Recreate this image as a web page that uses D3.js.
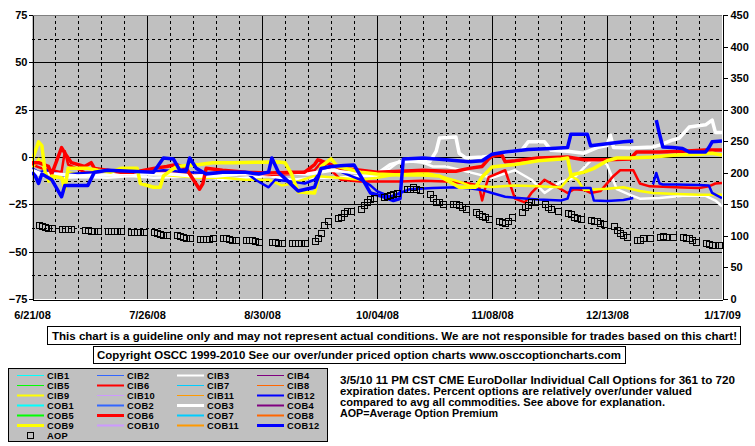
<!DOCTYPE html>
<html>
<head>
<meta charset="utf-8">
<script src="https://cdn.jsdelivr.net/npm/d3@7"></script>
<style>
  body { margin: 0; background: #fff; }
  svg { display: block; font-family: Arial, "Liberation Sans", sans-serif; font-weight: bold; }
</style>
</head>
<body>
<svg id="chart" width="755" height="446"></svg>
<script>
// ---- data ----
const xTickLabels = ["6/21/08", "7/26/08", "8/30/08", "10/04/08", "11/08/08", "12/13/08", "1/17/09"]
const leftTicks = [-75, -50, -25, 0, 25, 50, 75]
const rightTicks = [0, 50, 100, 150, 200, 250, 300, 350, 400, 450]

const legendNames = ["CIB1","CIB2","CIB3","CIB4","CIB5","CIB6","CIB7","CIB8","CIB9","CIB10","CIB11","CIB12",
                     "COB1","COB2","COB3","COB4","COB5","COB6","COB7","COB8","COB9","COB10","COB11","COB12"]
const seriesColors = ["#00ffff","#3366ff","#ffffff","#800080","#00ff00","#ff0000",
                      "#00ccff","#ff6600","#ffff00","#cc99ff","#ff9900","#0000ff"]

const cob6 = [["6/21/08",-3],["6/23/08",-3],["6/26/08",-5],["6/27/08",-9],["6/30/08",5],["7/1/08",2],["7/3/08",-3],["7/7/08",-5],["7/9/08",-3],["7/10/08",-6],["7/14/08",-7],["7/18/08",-8],["7/22/08",-8],["7/28/08",-6],["8/1/08",-5],["8/4/08",-4],["8/7/08",-6],["8/8/08",-9],["8/11/08",-17],["8/12/08",-14],["8/13/08",-6],["8/18/08",-7],["8/25/08",-8],["9/1/08",-8.5],["9/8/08",-8],["9/12/08",-8],["9/15/08",-4],["9/16/08",-1.5],["9/17/08",-2],["9/20/08",-4],["9/23/08",-6],["9/29/08",-7],["10/4/08",-8],["10/11/08",-7.5],["10/18/08",-7],["10/25/08",-7.5],["10/28/08",-7.5],["11/1/08",-6],["11/5/08",-5],["11/7/08",-1],["11/8/08",0.5],["11/11/08",1],["11/12/08",-2.5],["11/15/08",-2],["11/22/08",-0.5],["12/1/08",0],["12/6/08",-1.5],["12/13/08",-1.5],["12/20/08",-1],["12/22/08",2.6],["12/29/08",2.6],["1/5/09",3],["1/12/09",3.7],["1/17/09",3.7]]

const cib6 = [["6/21/08",-4],["6/24/08",-6],["6/27/08",-7],["6/30/08",-8],["7/1/08",3],["7/2/08",-4],["7/7/08",-8],["7/14/08",-9],["7/21/08",-9],["7/28/08",-8],["8/4/08",-8],["8/11/08",-10],["8/18/08",-9.5],["8/25/08",-9],["9/1/08",-9.5],["9/8/08",-9],["9/15/08",-7],["9/17/08",-3],["9/20/08",-7],["9/23/08",-12],["9/29/08",-13],["10/4/08",-13],["10/11/08",-13],["10/18/08",-12.5],["10/25/08",-13],["11/1/08",-14],["11/4/08",-15],["11/5/08",-23],["11/6/08",-16],["11/7/08",-10.6],["11/12/08",-7],["11/13/08",-12],["11/15/08",-22],["11/18/08",-24],["11/20/08",-19],["11/24/08",-12],["11/27/08",-15],["12/1/08",-19],["12/3/08",-17],["12/6/08",-17.4],["12/8/08",-19],["12/11/08",-18],["12/15/08",-10],["12/17/08",-7],["12/21/08",-7],["12/23/08",-14],["12/26/08",-15.5],["1/3/09",-16],["1/10/09",-16.4],["1/13/09",-15.5],["1/15/09",-14],["1/17/09",-13.7]]

const cob9 = [["6/21/08",-2],["6/23/08",8],["6/24/08",6],["6/25/08",-8],["6/26/08",-12],["6/27/08",-10],["6/30/08",-11],["7/1/08",-17],["7/2/08",-6],["7/8/08",-6],["7/11/08",-7],["7/15/08",-8],["7/18/08",-6],["7/23/08",-6],["7/24/08",-14],["7/28/08",-16],["7/30/08",-16],["7/31/08",-10],["8/4/08",-5],["8/11/08",-4],["8/15/08",-3],["8/21/08",-3],["8/28/08",-2.8],["9/4/08",-2.6],["9/6/08",-3],["9/8/08",-9],["9/10/08",-18.5],["9/15/08",-19],["9/17/08",-5],["9/20/08",-1],["9/22/08",-5],["9/29/08",-8],["10/4/08",-9],["10/11/08",-9.5],["10/18/08",-9.5],["10/23/08",-10],["10/25/08",-12],["10/29/08",-16],["11/3/08",-16],["11/5/08",-10.6],["11/8/08",-5.3],["11/15/08",-4],["11/22/08",-2],["11/29/08",-1],["12/1/08",-0.5],["12/2/08",-9.5],["12/6/08",-8],["12/9/08",-6],["12/13/08",-2],["12/16/08",-0.5],["12/20/08",-0.5],["12/27/08",0],["1/3/09",1],["1/10/09",1.5],["1/14/09",2],["1/17/09",1]]

const cib9 = [["6/21/08",-6],["6/23/08",-1],["6/24/08",-3],["6/26/08",-13],["6/30/08",-9],["7/1/08",-14],["7/2/08",-8],["7/8/08",-10],["7/15/08",-9],["7/22/08",-8],["7/28/08",-9],["8/4/08",-10],["8/11/08",-11],["8/18/08",-11],["8/25/08",-12],["9/1/08",-12],["9/5/08",-15],["9/8/08",-14],["9/15/08",-10],["9/22/08",-11],["9/29/08",-12],["10/4/08",-11],["10/11/08",-9],["10/18/08",-8],["10/23/08",-10],["10/29/08",-13],["11/1/08",-15],["11/8/08",-15.8],["11/15/08",-15],["11/22/08",-15.5],["11/29/08",-16],["12/2/08",-10],["12/4/08",-12],["12/6/08",-17.4],["12/13/08",-16.8],["12/18/08",-16],["12/23/08",-18],["12/27/08",-19],["1/3/09",-19.5],["1/10/09",-20],["1/17/09",-20]]

const cob12 = [["6/21/08",-8],["6/22/08",-10],["6/23/08",-14],["6/24/08",-9],["6/27/08",-12],["6/30/08",-21],["7/1/08",-15],["7/3/08",-15],["7/8/08",-15],["7/10/08",-8],["7/14/08",-7],["7/21/08",-7.5],["7/28/08",-8],["7/31/08",-0.5],["8/3/08",-1],["8/5/08",-7],["8/7/08",-7],["8/8/08",-0.5],["8/10/08",-6],["8/13/08",-9],["8/18/08",-8],["8/25/08",-8],["8/29/08",-9],["9/1/08",-8],["9/2/08",-0.5],["9/4/08",-8],["9/7/08",-13],["9/10/08",-18],["9/15/08",-16],["9/17/08",-6],["9/20/08",-5],["9/24/08",-4.5],["9/27/08",-4.2],["9/29/08",-10],["10/2/08",-19],["10/6/08",-21],["10/9/08",-23],["10/11/08",-22],["10/12/08",-1],["10/18/08",-0.5],["10/25/08",-1.5],["11/1/08",-2.5],["11/5/08",-2],["11/8/08",1.5],["11/12/08",2.6],["11/19/08",4],["11/26/08",4.5],["12/1/08",5],["12/2/08",12],["12/7/08",12],["12/8/08",6],["12/13/08",7],["12/18/08",8],["12/21/08",8.5],["12/24/08",null],["12/28/08",19.5],["12/29/08",12],["12/30/08",5.3],["1/2/09",5],["1/5/09",4.5],["1/7/09",2.6],["1/12/09",2.6],["1/13/09",5],["1/14/09",8],["1/17/09",8.5]]

const cib12 = [["6/21/08",-6],["6/23/08",-8],["6/26/08",-7],["6/30/08",-10],["7/3/08",-9],["7/10/08",-8],["7/17/08",-8],["7/24/08",-8.5],["7/31/08",-7],["8/7/08",-8],["8/14/08",-8.5],["8/21/08",-8],["8/25/08",-8],["8/28/08",-12],["9/1/08",-16],["9/3/08",-12],["9/8/08",-13],["9/12/08",-14],["9/15/08",-12],["9/17/08",-7],["9/22/08",-7],["9/26/08",-10],["9/29/08",-12],["10/2/08",-15],["10/4/08",-18],["10/8/08",-21],["10/11/08",-19],["10/14/08",-17],["10/21/08",-16.4],["10/28/08",-16],["11/1/08",-16.5],["11/5/08",-17.5],["11/8/08",-19],["11/12/08",-21],["11/15/08",-21.5],["11/22/08",-22.5],["11/29/08",-23],["12/1/08",-22],["12/2/08",-16.4],["12/8/08",-16.4],["12/9/08",-23],["12/13/08",-23.3],["12/18/08",-22.7],["12/21/08",-21.7],["12/24/08",null],["12/27/08",-14.5],["12/28/08",-8.4],["12/29/08",-14],["12/30/08",-14.5],["1/3/09",-14.5],["1/10/09",-14.8],["1/13/09",-15],["1/14/09",-19],["1/17/09",-21.7]]

const cob3 = [["6/21/08",-7],["6/24/08",-9],["6/28/08",-9],["7/5/08",-10],["7/12/08",-9.5],["7/19/08",-9],["7/26/08",-9],["8/2/08",-9],["8/9/08",-10],["8/16/08",-10],["8/23/08",-9],["8/30/08",-9],["9/6/08",-8],["9/13/08",-9],["9/20/08",-7],["9/27/08",-8],["10/4/08",-9],["10/8/08",-4],["10/11/08",-2.6],["10/16/08",-2],["10/20/08",-2.5],["10/22/08",3],["10/23/08",10],["10/28/08",10.6],["10/29/08",2],["10/31/08",-0.5],["11/5/08",0],["11/8/08",0.5],["11/12/08",2.5],["11/17/08",3.5],["11/19/08",8],["11/24/08",8],["11/26/08",3.5],["12/1/08",3],["12/6/08",2],["12/10/08",5],["12/13/08",6],["12/14/08",11.6],["12/15/08",5],["12/20/08",4.8],["12/27/08",5.3],["12/29/08",6.3],["1/2/09",9],["1/4/09",10],["1/7/09",15.8],["1/12/09",17],["1/14/09",19.5],["1/15/09",13],["1/17/09",13]]

const cib3 = [["6/21/08",-8],["6/24/08",-10],["6/30/08",-11],["7/7/08",-10.5],["7/14/08",-11],["7/21/08",-10],["7/28/08",-11],["8/4/08",-10.5],["8/11/08",-9.5],["8/18/08",-12],["8/25/08",-11],["9/1/08",-10],["9/8/08",-12],["9/15/08",-11],["9/22/08",-11],["9/29/08",-10],["10/4/08",-10],["10/8/08",-6],["10/11/08",-2],["10/16/08",-2.6],["10/18/08",-3],["10/21/08",-5],["10/25/08",-5],["11/1/08",-8],["11/8/08",-11],["11/15/08",-7],["11/20/08",-12],["11/24/08",-19],["11/29/08",-13],["12/3/08",-11],["12/8/08",-2],["12/11/08",-1.5],["12/13/08",-4],["12/16/08",-17],["12/20/08",-20],["12/23/08",-22],["12/29/08",-21.7],["1/5/09",-20.5],["1/12/09",-20.5],["1/15/09",-23],["1/17/09",-26]]

// average option premium (right axis)
const aop = [["6/23/08",118],["6/24/08",116],["6/25/08",114],["6/26/08",112],["6/27/08",112],
["6/30/08",111],["7/1/08",111],["7/2/08",111],["7/3/08",111],
["7/7/08",110],["7/8/08",109],["7/9/08",108],["7/10/08",107],["7/11/08",107],
["7/14/08",108],["7/15/08",108],["7/16/08",108],["7/17/08",108],["7/18/08",108],
["7/21/08",106],["7/22/08",106],["7/23/08",106],["7/24/08",106],["7/25/08",106],
["7/28/08",106],["7/29/08",105],["7/30/08",103],["7/31/08",102],["8/1/08",102],
["8/4/08",101],["8/5/08",100],["8/6/08",98],["8/7/08",96],["8/8/08",96],
["8/11/08",95],["8/12/08",95],["8/13/08",95],["8/14/08",95],["8/15/08",96],
["8/18/08",96],["8/19/08",96],["8/20/08",95],["8/21/08",94],["8/22/08",94],
["8/25/08",93],["8/26/08",93],["8/27/08",93],["8/28/08",92],["8/29/08",91],
["9/2/08",91],["9/3/08",90],["9/4/08",89],["9/5/08",88],
["9/8/08",88],["9/9/08",88],["9/10/08",88],["9/11/08",88],["9/12/08",88],
["9/15/08",92],["9/16/08",97],["9/17/08",105],["9/18/08",117],["9/19/08",123],
["9/22/08",128],["9/23/08",130],["9/24/08",137],["9/25/08",139],["9/26/08",139],
["9/29/08",143],["9/30/08",149],["10/1/08",154],["10/2/08",158],["10/3/08",160],
["10/6/08",161],["10/7/08",163],["10/8/08",165],["10/9/08",166],["10/10/08",168],
["10/13/08",174],["10/14/08",175],["10/15/08",177],["10/16/08",175],["10/17/08",172],
["10/20/08",166],["10/21/08",160],["10/22/08",154],["10/23/08",153],["10/24/08",151],
["10/27/08",151],["10/28/08",150],["10/29/08",149],["10/30/08",146],["10/31/08",142],
["11/3/08",138],["11/4/08",135],["11/5/08",132],["11/6/08",130],["11/7/08",127],
["11/10/08",124],["11/11/08",122],["11/12/08",121],["11/13/08",124],["11/14/08",130],
["11/17/08",138],["11/18/08",145],["11/19/08",149],["11/20/08",153],["11/21/08",154],
["11/24/08",151],["11/25/08",146],["11/26/08",143],["11/28/08",140],
["12/1/08",137],["12/2/08",134],["12/3/08",130],["12/4/08",128],["12/5/08",127],
["12/8/08",125],["12/9/08",124],["12/10/08",123],["12/11/08",121],["12/12/08",119],
["12/15/08",116],["12/16/08",110],["12/17/08",105],["12/18/08",101],["12/19/08",98],
["12/22/08",93],["12/23/08",93],["12/24/08",96],["12/26/08",97],
["12/29/08",99],["12/30/08",100],["12/31/08",99],["1/2/09",99],
["1/5/09",98],["1/6/09",97],["1/7/09",96],["1/8/09",93],["1/9/09",91],
["1/12/09",88],["1/13/09",87],["1/14/09",86],["1/15/09",85],["1/16/09",86]]

const plotted = { CIB3: cib3, CIB6: cib6, CIB9: cib9, CIB12: cib12, COB3: cob3, COB6: cob6, COB9: cob9, COB12: cob12 }

const disclaimer = "This chart is a guideline only and may not represent actual conditions. We are not responsible for trades based on this chart!"
const copyright = "Copyright OSCC 1999-2010 See our over/under priced option charts www.osccoptioncharts.com"
const notes = ["3/5/10 11 PM CST CME EuroDollar Individual Call Options for 361 to 720",
               "expiration dates. Percent options are relatively over/under valued",
               "compared to avg all commodities. See above for explanation.",
               "AOP=Average Option Premium"]

// ---- chart ----
const parseDate = d3.timeParse("%m/%d/%y")
const plot = { left: 32, right: 722, top: 15, bottom: 299 }

const svg = d3.select("#chart")

const xPositionScale = d3.scaleTime()
    .domain([parseDate(xTickLabels[0]), parseDate(xTickLabels[xTickLabels.length - 1])])
    .range([plot.left, plot.right])
const yLeft = d3.scaleLinear().domain([-75, 75]).range([plot.bottom, plot.top])
const yRight = d3.scaleLinear().domain([0, 450]).range([plot.bottom, plot.top])

svg.append("rect")
    .attr("x", plot.left).attr("y", plot.top)
    .attr("width", plot.right - plot.left).attr("height", plot.bottom - plot.top)
    .attr("fill", "#c0c0c0")

// grid: horizontal every 12.5, solid on the labelled ones
const grid = svg.append("g").attr("shape-rendering", "crispEdges")
d3.range(-62.5, 75, 12.5).forEach(v => {
    grid.append("line")
        .attr("x1", plot.left).attr("x2", plot.right)
        .attr("y1", Math.round(yLeft(v)) + 0.5).attr("y2", Math.round(yLeft(v)) + 0.5)
        .attr("stroke", "#000")
        .attr("stroke-dasharray", v % 25 === 0 ? null : "3,3")
})
// vertical: weekly dashed, every 5 weeks solid
const start = xPositionScale.domain()[0]
d3.range(1, 30).forEach(i => {
    const xx = Math.round(xPositionScale(d3.timeDay.offset(start, i * 7))) + 0.5
    grid.append("line")
        .attr("x1", xx).attr("x2", xx)
        .attr("y1", plot.top).attr("y2", plot.bottom)
        .attr("stroke", "#000")
        .attr("stroke-dasharray", i % 5 === 0 ? null : "3,3")
})
grid.append("line")
    .attr("x1", plot.left).attr("x2", plot.right)
    .attr("y1", plot.top + 0.5).attr("y2", plot.top + 0.5)
    .attr("stroke", "#808080")

// lines
svg.append("clipPath").attr("id", "clip")
    .append("rect")
    .attr("x", plot.left).attr("y", plot.top)
    .attr("width", plot.right - plot.left).attr("height", plot.bottom - plot.top)

const line = d3.line()
    .defined(d => d[1] !== null)
    .x(d => xPositionScale(parseDate(d[0])))
    .y(d => yLeft(d[1]))

const lineWidth = (name, i) => {
    const heavy = (i % 12 + 1) % 3 === 0
    return name.startsWith("CIB") ? (heavy ? 2 : 1) : (heavy ? 3 : 2)
}

const lines = svg.append("g").attr("clip-path", "url(#clip)")
legendNames.forEach((name, i) => {
    if (!plotted[name]) return
    lines.append("path")
        .attr("d", line(plotted[name]))
        .attr("fill", "none")
        .attr("stroke", seriesColors[i % 12])
        .attr("stroke-width", lineWidth(name, i) + 0.5)
        .attr("stroke-linejoin", "round")
})

// AOP squares
svg.append("g").selectAll("rect")
    .data(aop)
    .enter()
    .append("rect")
    .attr("x", d => Math.round(xPositionScale(parseDate(d[0]))) - 3 + 0.5)
    .attr("y", d => Math.round(yRight(d[1])) - 3 + 0.5)
    .attr("width", 6).attr("height", 6)
    .attr("fill", "none")
    .attr("stroke", "#000")

// axes
const styleAxis = g => {
    g.selectAll("text").attr("font-size", "11px").attr("font-weight", "bold").attr("fill", "#000")
        .attr("font-family", "Arial, 'Liberation Sans', sans-serif")
    g.selectAll("line, path").attr("stroke", "#000").attr("shape-rendering", "crispEdges")
}

svg.append("g")
    .attr("transform", "translate(" + (plot.left + 0.5) + ",0)")
    .call(d3.axisLeft(yLeft).tickValues(leftTicks).tickSize(4).tickSizeOuter(0).tickPadding(1))
    .call(styleAxis)

svg.append("g")
    .attr("transform", "translate(" + (plot.right + 0.5) + ",0)")
    .call(d3.axisRight(yRight).tickValues(rightTicks).tickSize(5).tickSizeOuter(0).tickPadding(3))
    .call(styleAxis)

svg.append("g")
    .attr("transform", "translate(0," + (plot.bottom + 0.5) + ")")
    .call(d3.axisBottom(xPositionScale)
        .tickValues(xTickLabels.map(parseDate))
        .tickFormat((d, i) => xTickLabels[i])
        .tickSize(0).tickSizeOuter(0).tickPadding(12))
    .call(styleAxis)

// text boxes
const fitText = (sel, w) => sel.attr("textLength", w).attr("lengthAdjust", "spacingAndGlyphs")

svg.append("rect").attr("x", 47.5).attr("y", 326.5).attr("width", 693).attr("height", 18)
    .attr("fill", "#fff").attr("stroke", "#000").attr("shape-rendering", "crispEdges")
svg.append("text").attr("x", 52).attr("y", 340).attr("font-size", "11px").text(disclaimer)
    .call(fitText, 685)

svg.append("rect").attr("x", 93.5).attr("y", 346.5).attr("width", 532).attr("height", 17)
    .attr("fill", "#fff").attr("stroke", "#000").attr("shape-rendering", "crispEdges")
svg.append("text").attr("x", 97).attr("y", 358.5).attr("font-size", "11px").text(copyright)
    .call(fitText, 524)

const noteWidths = [395, 352, 325, 158]
svg.append("g").selectAll("text")
    .data(notes)
    .enter()
    .append("text")
    .attr("x", 340)
    .attr("y", (d, i) => 383.5 + i * 11.3)
    .attr("font-size", "10.5px")
    .text(d => d)
    .each(function (d, i) { d3.select(this).call(fitText, noteWidths[i]) })

// legend
const legend = svg.append("g")
legend.append("rect").attr("x", 8.5).attr("y", 368.5).attr("width", 319).attr("height", 73)
    .attr("fill", "#c0c0c0").attr("stroke", "#000").attr("shape-rendering", "crispEdges")

legendNames.forEach((name, i) => {
    const col = i % 4, row = Math.floor(i / 4)
    const lx = 17 + col * 80, ly = 375.5 + row * 10
    legend.append("line")
        .attr("x1", lx).attr("x2", lx + 27)
        .attr("y1", ly).attr("y2", ly)
        .attr("stroke", seriesColors[i % 12])
        .attr("stroke-width", lineWidth(name, i))
    legend.append("text")
        .attr("x", lx + 30).attr("y", ly + 3.5)
        .attr("font-size", "9.3px")
        .attr("letter-spacing", "0.3px")
        .text(name)
})
legend.append("rect").attr("x", 27.5).attr("y", 432.5).attr("width", 6).attr("height", 6)
    .attr("fill", "none").attr("stroke", "#000")
legend.append("text").attr("x", 47).attr("y", 439).attr("font-size", "9.3px")
    .attr("letter-spacing", "0.3px").text("AOP")
</script>
</body>
</html>
